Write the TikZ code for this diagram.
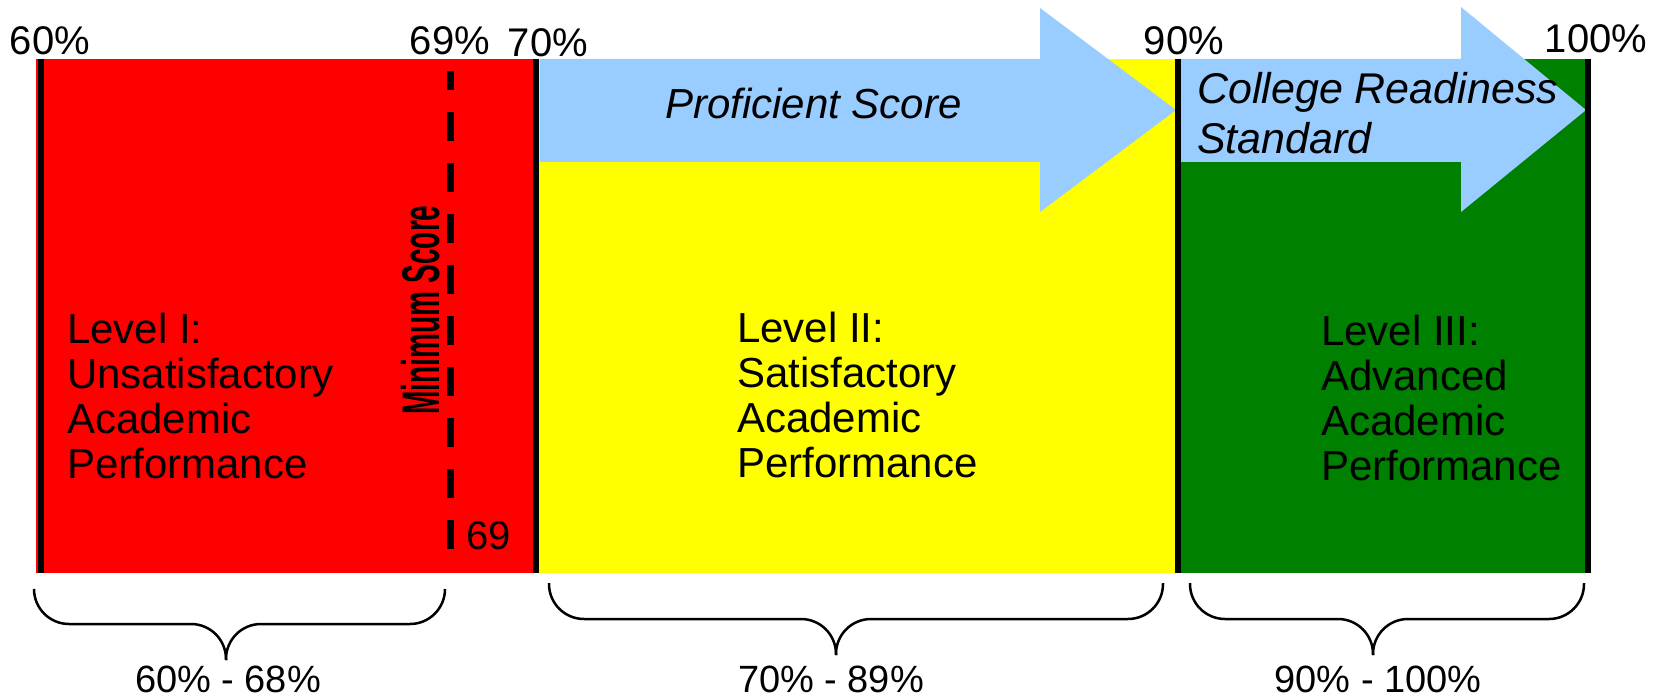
\documentclass[tikz,border=0pt]{standalone}
\usepackage{fontspec}
\setmainfont{Liberation Sans}
\usepackage{graphicx}

\definecolor{lvlred}{RGB}{255,0,0}
\definecolor{lvlyellow}{RGB}{255,255,0}
\definecolor{lvlgreen}{RGB}{0,128,0}
\definecolor{arrowblue}{RGB}{153,204,255}

\begin{document}
\begin{tikzpicture}[x=1pt,y=-1pt,
  pct/.style={anchor=base,inner sep=0pt,font=\fontsize{40}{40}\selectfont},
  lvl/.style={anchor=north west,inner sep=0pt,align=left,font=\fontsize{42}{45}\selectfont},
  bar line/.style={line width=6pt},
  brace line/.style={line width=2.5pt,rounded corners=35pt}]

  \useasboundingbox (0,0) rectangle (1655,698);

  \fill[lvlred] (36,59) rectangle (536,573);
  \fill[lvlyellow] (536,59) rectangle (1178,573);
  \fill[lvlgreen] (1178,59) rectangle (1591,573);

  \fill[arrowblue] (540,59) -- (1040,59) -- (1040,8) -- (1176,110) -- (1040,212) -- (1040,162) -- (540,162) -- cycle;
  \fill[arrowblue] (1181,59) -- (1461,59) -- (1461,7) -- (1586,110) -- (1461,212) -- (1461,162) -- (1181,162) -- cycle;

  \foreach \x in {41,536,1178,1588}
    \draw[bar line] (\x,59) -- (\x,573);

  \draw[line width=7pt,dash pattern=on 29pt off 22pt] (450,549) -- (450,71);

  \draw (50,55) node[pct] (p60) {60\%};
  \draw (450,55) node[pct] (p69) {69\%};
  \draw (548,57) node[pct] (p70) {70\%};
  \draw (1184,55) node[pct] (p90) {90\%};
  \draw (1596,53) node[pct] (p100) {100\%};

  \node[anchor=base west,inner sep=0pt,font=\fontsize{42}{45}\selectfont\itshape] (prof) at (665,119) {Proficient Score};
  \node[lvl,font=\fontsize{43}{50}\selectfont\itshape] (college) at (1197,72) {College Readiness\\Standard};

  \node[rotate=90,inner sep=0pt] (minscore) at (421,310)
    {\scalebox{0.53}[1]{\fontsize{53}{53}\selectfont\bfseries Minimum Score}};
  \draw (489,549) node[pct] (min69) {69};

  \node[lvl] (lvl1) at (67,313) {Level I:\\Unsatisfactory\\Academic\\Performance};
  \node[lvl] (lvl2) at (737,312) {Level II:\\Satisfactory\\Academic\\Performance};
  \node[lvl] (lvl3) at (1321,315) {Level III:\\Advanced\\Academic\\Performance};

  % braces
  \draw[brace line] (34,589) -- (34,624) -- (226,624) -- (226,660);
  \draw[brace line] (445,589) -- (445,624) -- (226,624) -- (226,660);
  \draw[brace line] (549,583) -- (549,619) -- (836,619) -- (836,655);
  \draw[brace line] (1163,583) -- (1163,619) -- (836,619) -- (836,655);
  \draw[brace line] (1190,583) -- (1190,619) -- (1373,619) -- (1373,655);
  \draw[brace line] (1584,583) -- (1584,619) -- (1373,619) -- (1373,655);

  \draw (228,692) node[pct,font=\fontsize{38}{38}\selectfont] (r1) {60\% - 68\%};
  \draw (831,692) node[pct,font=\fontsize{38}{38}\selectfont] (r2) {70\% - 89\%};
  \draw (1378,692) node[pct,font=\fontsize{38}{38}\selectfont] (r3) {90\% - 100\%};

\end{tikzpicture}
\end{document}
